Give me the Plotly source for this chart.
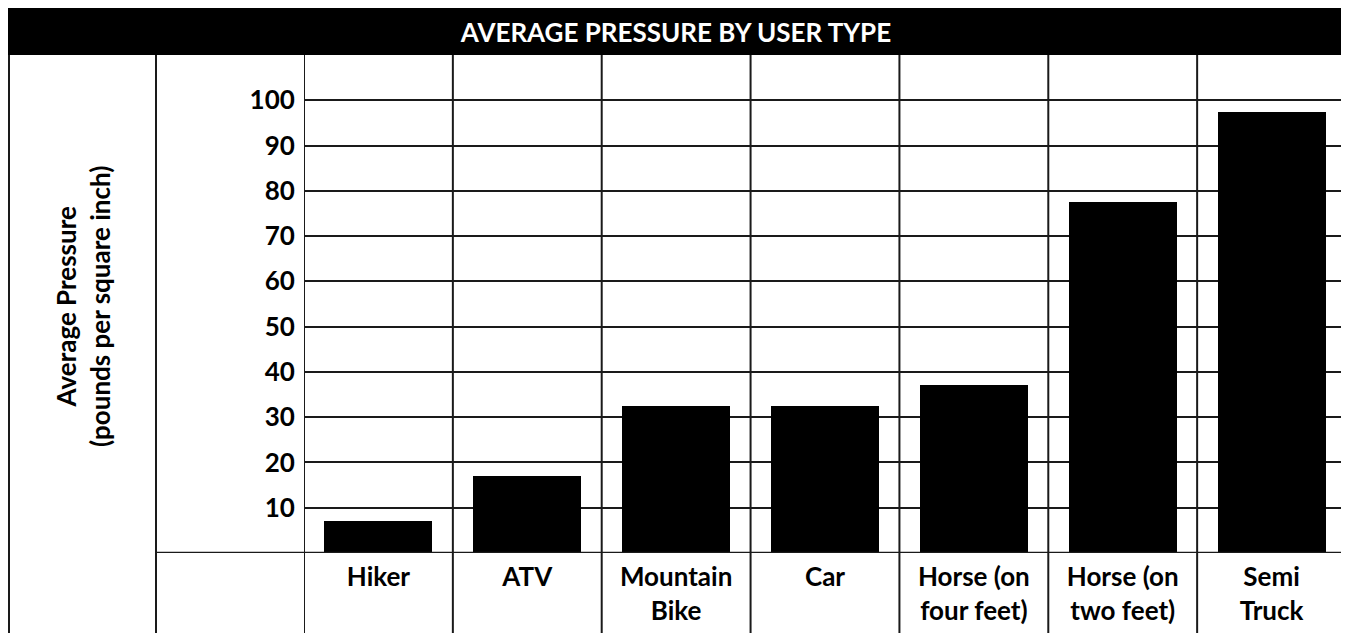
import plotly.graph_objects as go

# ---- data ----
categories = ["Hiker", "ATV", "Mountain Bike", "Car", "Horse (on four feet)",
              "Horse (on two feet)", "Semi Truck"]
category_labels = ["Hiker", "ATV", "Mountain<br>Bike", "Car", "Horse (on<br>four feet)",
                   "Horse (on<br>two feet)", "Semi<br>Truck"]
pressure = [7, 17, 32.5, 32.5, 37, 77.5, 97.5]
y_ticks = [10, 20, 30, 40, 50, 60, 70, 80, 90, 100]
y_tick_labels = [str(v) for v in y_ticks]
title_text = "AVERAGE PRESSURE BY USER TYPE"
y_title = "Average Pressure<br>(pounds per square inch)"

# page offset (default body margin) compensation
OFF = 8
W, H = 1349 - OFF, 633 - OFF
FONT = "Lato"
LINE = "#1a1a1a"


def px_x(p):
    return max(p - OFF, 0) / W


def px_y(p):
    return 1 - (p - OFF) / H


x_pos = list(range(len(categories)))

fig = go.Figure()
fig.add_trace(go.Bar(
    x=x_pos, y=pressure, width=0.725,
    marker=dict(color="black", line=dict(width=0)),
    hovertext=categories, hoverinfo="text+y",
))

shapes = []
# title bar
shapes.append(dict(type="rect", xref="paper", yref="paper",
                   x0=0, x1=px_x(1346), y0=px_y(55), y1=px_y(8),
                   fillcolor="black", line=dict(width=0), layer="below"))
# outer left border and label-column border
for xp in (OFF + 1, 156):
    shapes.append(dict(type="line", xref="paper", yref="paper",
                       x0=px_x(xp), x1=px_x(xp), y0=0, y1=px_y(55),
                       line=dict(color=LINE, width=2), layer="below"))
# column boundaries (data coords)
for k in range(len(categories) + 1):
    shapes.append(dict(type="line", xref="x", yref="paper",
                       x0=k - 0.5, x1=k - 0.5, y0=0, y1=px_y(55),
                       line=dict(color=LINE, width=2), layer="below"))
# baseline row separator
shapes.append(dict(type="line", xref="paper", yref="y",
                   x0=px_x(156), x1=px_x(1346), y0=0, y1=0,
                   line=dict(color=LINE, width=2.5), layer="above"))

fig.update_layout(
    width=W, height=H,
    margin=dict(l=0, r=0, t=0, b=0),
    paper_bgcolor="white", plot_bgcolor="rgba(0,0,0,0)",
    showlegend=False, bargap=0,
    font=dict(family=FONT, color="black", size=26),
    title=dict(text=title_text, x=px_x(676), xanchor="center",
               y=px_y(33), yanchor="middle", yref="container",
               font=dict(family=FONT, size=26, color="white", weight=700)),
    xaxis=dict(domain=[px_x(304), px_x(1346)], range=[-0.5, 6.5],
               tickmode="array", tickvals=x_pos, ticktext=category_labels,
               showgrid=False, zeroline=False, showline=False,
               ticks="outside", ticklen=1, tickcolor="rgba(0,0,0,0)",
               tickfont=dict(family=FONT, size=26, weight=700, color="black"),
               fixedrange=True),
    yaxis=dict(domain=[px_y(553), px_y(55)], range=[0, 110],
               tickmode="array", tickvals=y_ticks, ticktext=y_tick_labels,
               showgrid=True, gridcolor=LINE, gridwidth=2,
               zeroline=False, showline=False,
               ticks="outside", ticklen=3, tickcolor="rgba(0,0,0,0)",
               tickfont=dict(family=FONT, size=26, weight=700, color="black"),
               fixedrange=True),
    shapes=shapes,
    annotations=[dict(text=y_title, xref="paper", yref="paper",
                      x=px_x(83), y=px_y(307), xanchor="center", yanchor="middle",
                      textangle=-90, showarrow=False,
                      font=dict(family=FONT, size=26, weight=700, color="black"))],
)

fig.write_html("out.html")
